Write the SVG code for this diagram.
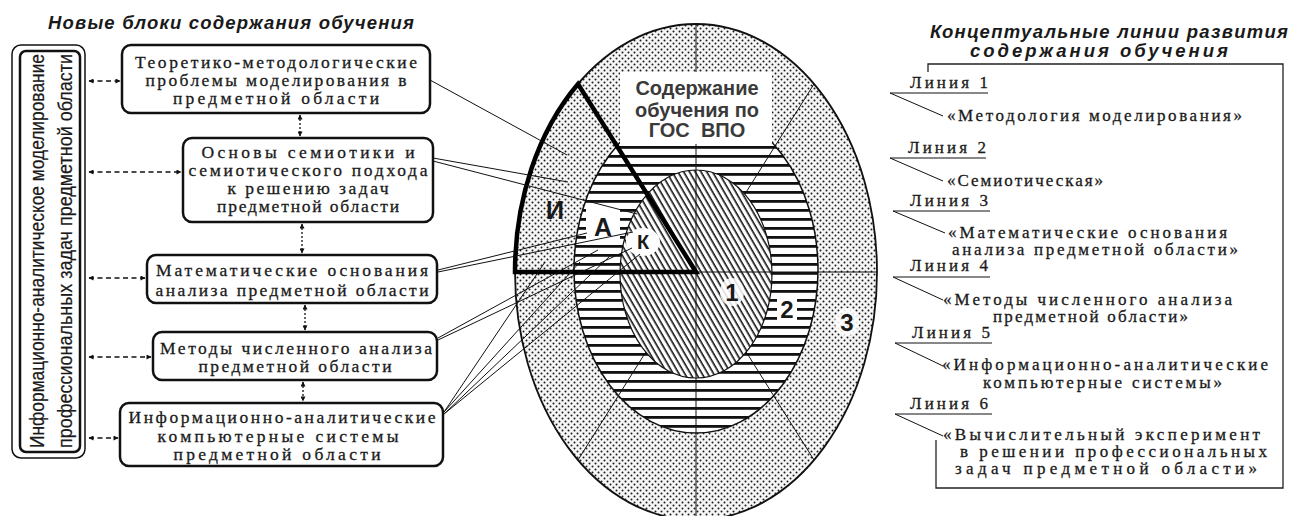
<svg xmlns="http://www.w3.org/2000/svg" width="1298" height="516" viewBox="0 0 1298 516">
<style>
.box{fill:#fff;stroke:#111;stroke-width:2.5}
.bt{font-family:"Liberation Serif","Times New Roman",serif;font-size:17.5px;fill:#1a1a1a;stroke:#1a1a1a;stroke-width:0.3;text-anchor:middle}
.rt{font-family:"Liberation Serif","Times New Roman",serif;font-size:17px;fill:#1a1a1a;stroke:#1a1a1a;stroke-width:0.3}
.ttl{font-family:"Liberation Sans",Arial,sans-serif;font-size:18.5px;font-weight:bold;font-style:italic;fill:#1a1a1a}
.vt{font-family:"Liberation Sans",Arial,sans-serif;font-size:19.5px;fill:#1a1a1a;stroke:#1a1a1a;stroke-width:0.2;text-anchor:middle}
.lab{font-family:"Liberation Sans",Arial,sans-serif;font-size:20px;font-weight:bold;fill:#3a3a3a;text-anchor:middle}
.big{font-family:"Liberation Sans",Arial,sans-serif;font-weight:bold;fill:#1a1a1a;text-anchor:middle}
.dash{fill:none;stroke:#111;stroke-width:1.3;stroke-dasharray:5 3.5}
.dot{fill:none;stroke:#111;stroke-width:1.3;stroke-dasharray:2 2}
.thin{fill:none;stroke:#111;stroke-width:1}
</style>
<defs>
<pattern id="dots" width="6" height="6" patternUnits="userSpaceOnUse"><rect width="6" height="6" fill="#f6f6f6"/><circle cx="1.5" cy="1.5" r="1" fill="#1a1a1a"/><circle cx="4.5" cy="4.5" r="1" fill="#1a1a1a"/></pattern>
<pattern id="stripes" width="10" height="9" patternUnits="userSpaceOnUse" y="2"><rect width="10" height="9" fill="#fff"/><rect width="10" height="2.8" fill="#111"/></pattern>
<pattern id="hatch" width="5" height="5" patternUnits="userSpaceOnUse" patternTransform="rotate(-30)"><rect width="5" height="5" fill="#fff"/><line x1="1.2" y1="0" x2="1.2" y2="5" stroke="#111" stroke-width="1.6"/></pattern>
<marker id="ah" viewBox="0 0 10 10" refX="9" refY="5" markerWidth="6" markerHeight="5" orient="auto-start-reverse" markerUnits="userSpaceOnUse"><path d="M0,0 L10,5 L0,10 z" fill="#111"/></marker>
</defs>
<rect width="1298" height="516" fill="#fff"/>

<text class="ttl" x="48" y="29" textLength="366" lengthAdjust="spacing">Новые блоки содержания обучения</text>
<text class="ttl" x="930" y="38" textLength="358" lengthAdjust="spacing">Концептуальные линии развития</text>
<text class="ttl" x="970" y="57" textLength="258" lengthAdjust="spacing">содержания обучения</text>

<g id="center-diagram">
<ellipse cx="696" cy="272" rx="181" ry="248" fill="url(#dots)" stroke="#111" stroke-width="1.8"/>
<ellipse cx="696" cy="270" rx="122" ry="163" fill="url(#stripes)" stroke="#111" stroke-width="1.5"/>
<line class="thin" x1="696" y1="272" x2="814" y2="84"/>
<line class="thin" x1="696" y1="272" x2="814" y2="460"/>
<line class="thin" x1="696" y1="272" x2="578" y2="460"/>
<ellipse cx="696" cy="274" rx="76" ry="104" fill="url(#hatch)" stroke="#111" stroke-width="1.2"/>
<line class="thin" x1="696" y1="24" x2="696" y2="516"/>
<line class="thin" x1="515" y1="272" x2="877" y2="272"/>
<rect x="620" y="72" width="152" height="72" fill="#fff"/>
<text class="lab" x="697" y="95">Содержание</text>
<text class="lab" x="697" y="117">обучения по</text>
<text class="lab" x="697" y="137" xml:space="preserve">ГОС  ВПО</text>
<path d="M696,272 L578,84 A181,248 0 0 0 515,272 Z" fill="none" stroke="#000" stroke-width="4.5" stroke-linejoin="miter"/>
<rect x="586" y="208" width="34" height="32" fill="#fff"/>
<ellipse cx="643" cy="242" rx="17" ry="14" fill="#fff"/>
<text class="big" x="555" y="219" font-size="25">И</text>
<text class="big" x="603" y="236" font-size="25">А</text>
<text class="big" x="643" y="249" font-size="20">К</text>
<ellipse cx="732" cy="292" rx="12" ry="14" fill="#fff" opacity="0.85"/>
<rect x="777" y="298" width="20" height="24" fill="#fff"/>
<ellipse cx="847" cy="322" rx="12" ry="14" fill="#fff" opacity="0.85"/>
<text class="big" x="732" y="301" font-size="24">1</text>
<text class="big" x="787" y="318" font-size="24">2</text>
<text class="big" x="847" y="331" font-size="24">3</text>
</g>

<g id="block-model">
<rect x="12" y="45" width="73" height="413" rx="9" fill="#fff" stroke="#111" stroke-width="1.5"/>
<rect x="20" y="51" width="60" height="401" rx="6" fill="#fff" stroke="#111" stroke-width="2.5"/>
<text class="vt" transform="translate(44,251) rotate(-90)" textLength="394" lengthAdjust="spacingAndGlyphs">Информационно-аналитическое моделирование</text>
<text class="vt" transform="translate(72,251) rotate(-90)" textLength="394" lengthAdjust="spacingAndGlyphs">профессиональных задач предметной области</text>
</g>

<g id="block-1">
<rect class="box" x="122" y="45" width="308" height="68" rx="9"/>
<text class="bt" x="276" y="68" textLength="282" lengthAdjust="spacing">Теоретико-методологические</text>
<text class="bt" x="276" y="86" textLength="261" lengthAdjust="spacing">проблемы моделирования в</text>
<text class="bt" x="276" y="104" textLength="206" lengthAdjust="spacing">предметной области</text>
</g>
<g id="block-2">
<rect class="box" x="183" y="138" width="250" height="84" rx="9"/>
<text class="bt" x="308" y="158" font-size="16.5px" textLength="213" lengthAdjust="spacing">Основы семиотики и</text>
<text class="bt" x="308" y="176" font-size="16.5px" textLength="239" lengthAdjust="spacing">семиотического подхода</text>
<text class="bt" x="308" y="194" font-size="16.5px" textLength="161" lengthAdjust="spacing">к решению задач</text>
<text class="bt" x="308" y="212" font-size="16.5px" textLength="182" lengthAdjust="spacing">предметной области</text>
</g>
<g id="block-3">
<rect class="box" x="147" y="255" width="290" height="48" rx="9"/>
<text class="bt" x="292" y="276" textLength="272" lengthAdjust="spacing">Математические основания</text>
<text class="bt" x="292" y="296" textLength="273" lengthAdjust="spacing">анализа предметной области</text>
</g>
<g id="block-4">
<rect class="box" x="153" y="332" width="284" height="48" rx="9"/>
<text class="bt" x="296" y="354" textLength="272" lengthAdjust="spacing">Методы численного анализа</text>
<text class="bt" x="295" y="372" textLength="193" lengthAdjust="spacing">предметной области</text>
</g>
<g id="block-5">
<rect class="box" x="120" y="403" width="323" height="63" rx="9"/>
<text class="bt" x="282" y="423" textLength="307" lengthAdjust="spacing">Информационно-аналитические</text>
<text class="bt" x="278" y="442" textLength="241" lengthAdjust="spacing">компьютерные системы</text>
<text class="bt" x="277" y="460" textLength="207" lengthAdjust="spacing">предметной области</text>
</g>

<g id="lines-panel">
<path d="M928,72 L928,64 L1283,64 L1283,488 L936,488 L936,440" fill="none" stroke="#222" stroke-width="1.3"/>
<g id="line-1">
<text class="rt" x="910" y="88" textLength="78" lengthAdjust="spacing">Линия 1</text>
<path class="thin" d="M988,93 L890,93 L943,116"/>
<text class="rt" x="947" y="121" textLength="295" lengthAdjust="spacing">«Методология моделирования»</text>
</g>
<g id="line-2">
<text class="rt" x="908" y="153" textLength="78" lengthAdjust="spacing">Линия 2</text>
<path class="thin" d="M986,158 L890,158 L943,181"/>
<text class="rt" x="947" y="186" textLength="156" lengthAdjust="spacing">«Семиотическая»</text>
</g>
<g id="line-3">
<text class="rt" x="910" y="206" textLength="78" lengthAdjust="spacing">Линия 3</text>
<path class="thin" d="M990,211 L893,211 L945,233"/>
<text class="rt" x="948" y="238" textLength="279" lengthAdjust="spacing">«Математические основания</text>
<text class="rt" x="952" y="255" textLength="286" lengthAdjust="spacing">анализа предметной области»</text>
</g>
<g id="line-4">
<text class="rt" x="910" y="271" textLength="78" lengthAdjust="spacing">Линия 4</text>
<path class="thin" d="M990,277 L893,277 L943,300"/>
<text class="rt" x="943" y="305" textLength="289" lengthAdjust="spacing">«Методы численного анализа</text>
<text class="rt" x="993" y="322" textLength="195" lengthAdjust="spacing">предметной области»</text>
</g>
<g id="line-5">
<text class="rt" x="912" y="338" textLength="78" lengthAdjust="spacing">Линия 5</text>
<path class="thin" d="M992,343 L895,343 L943,366"/>
<text class="rt" x="942" y="370" textLength="326" lengthAdjust="spacing">«Информационно-аналитические</text>
<text class="rt" x="983" y="388" textLength="239" lengthAdjust="spacing">компьютерные системы»</text>
</g>
<g id="line-6">
<text class="rt" x="910" y="409" textLength="78" lengthAdjust="spacing">Линия 6</text>
<path class="thin" d="M992,414 L895,414 L943,436"/>
<text class="rt" x="943" y="440" textLength="317" lengthAdjust="spacing">«Вычислительный эксперимент</text>
<text class="rt" x="960" y="457" textLength="307" lengthAdjust="spacing">в решении профессиональных</text>
<text class="rt" x="955" y="474" textLength="302" lengthAdjust="spacing">задач предметной области»</text>
</g>
</g>

<g id="connectors">
<line class="dash" x1="89" y1="81" x2="120" y2="81" marker-start="url(#ah)" marker-end="url(#ah)"/>
<line class="dash" x1="89" y1="172" x2="181" y2="172" marker-start="url(#ah)" marker-end="url(#ah)"/>
<line class="dash" x1="89" y1="278" x2="145" y2="278" marker-start="url(#ah)" marker-end="url(#ah)"/>
<line class="dash" x1="89" y1="357" x2="151" y2="357" marker-start="url(#ah)" marker-end="url(#ah)"/>
<line class="dash" x1="89" y1="438" x2="118" y2="438" marker-start="url(#ah)" marker-end="url(#ah)"/>
<line class="dot" x1="300" y1="115" x2="300" y2="136" marker-start="url(#ah)" marker-end="url(#ah)"/>
<line class="dot" x1="302" y1="224" x2="302" y2="253" marker-start="url(#ah)" marker-end="url(#ah)"/>
<line class="dot" x1="305" y1="305" x2="305" y2="330" marker-start="url(#ah)" marker-end="url(#ah)"/>
<line class="dot" x1="303" y1="382" x2="303" y2="401" marker-start="url(#ah)" marker-end="url(#ah)"/>
<line class="thin" x1="430" y1="80" x2="567" y2="155"/>
<line class="thin" x1="433" y1="158" x2="568" y2="182"/>
<line class="thin" x1="433" y1="161" x2="637" y2="214"/>
<line class="thin" x1="438" y1="270" x2="587" y2="233"/>
<line class="thin" x1="438" y1="272" x2="633" y2="232"/>
<line class="thin" x1="438" y1="338" x2="598" y2="250"/>
<line class="thin" x1="438" y1="340" x2="632" y2="248"/>
<line class="thin" x1="444" y1="412" x2="545" y2="262"/>
<line class="thin" x1="444" y1="412" x2="580" y2="262"/>
<line class="thin" x1="444" y1="414" x2="610" y2="256"/>
<line class="thin" x1="444" y1="414" x2="640" y2="254"/>
</g>
</svg>
